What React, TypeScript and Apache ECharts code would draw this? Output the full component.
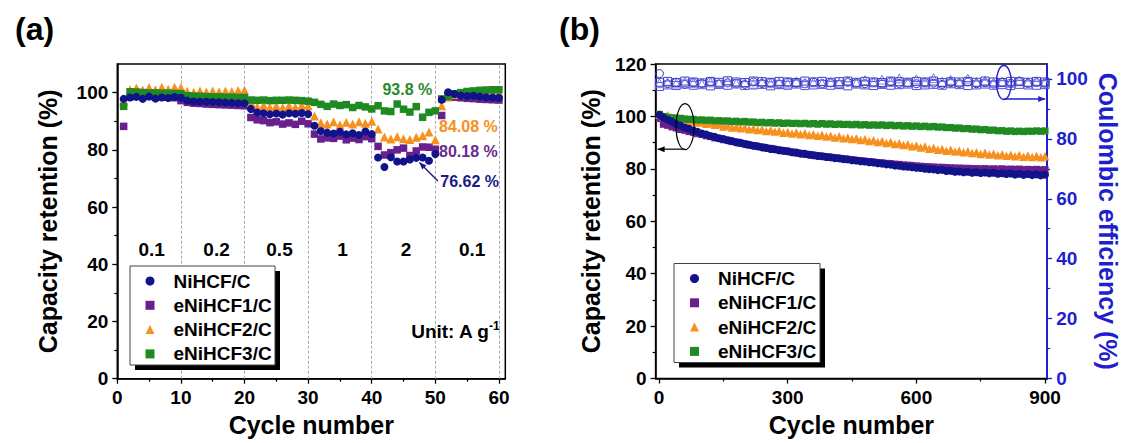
import React, { useEffect, useRef } from 'react';
import * as echarts from 'echarts';

const FONT = '"Liberation Sans", Arial, Helvetica, sans-serif';

const seriesNames = ['NiHCF/C', 'eNiHCF1/C', 'eNiHCF2/C', 'eNiHCF3/C'];
const seriesColors = ['#12128a', '#6a1f8e', '#f7901e', '#1f8a22'];
const seriesSymbols = ['circle', 'rect', 'triangle', 'rect'];
const symbolSizesA = [8, 7.5, 9, 7.5];
const symbolSizesB = [8, 7, 8.5, 7];
const drawOrder = [1, 2, 3, 0];

// ---------- panel (a): rate performance ----------
const cyclesA = Array.from({ length: 60 }, (_, i) => i + 1);
const rateNiHCF = [
  97.8, 98.3, 98.5, 97.8, 98.6, 97.9, 98.3, 98.1, 98.5, 98.2,
  97.2, 96.9, 96.8, 96.8, 96.7, 96.6, 96.5, 96.4, 96.3, 96.3,
  94.3, 93.0, 92.8, 92.4, 92.7, 92.3, 92.8, 92.6, 92.9, 92.5,
  88.4, 86.6, 86.0, 85.7, 86.3, 85.4, 85.8, 85.2, 86.4, 85.5,
  77.3, 74.0, 77.4, 75.9, 75.9, 76.6, 77.2, 77.3, 76.2, 78.5,
  97.5, 100.1, 99.5, 99.0, 98.8, 98.9, 98.6, 98.4, 98.3, 98.2,
];
const rateE1 = [
  88.2, 98.5, 98.8, 98.6, 98.7, 98.5, 98.4, 98.4, 98.2, 97.2,
  96.6, 96.3, 96.2, 96.0, 95.9, 95.8, 95.7, 95.6, 95.5, 95.4,
  91.3, 90.5, 90.2, 89.5, 89.8, 89.0, 89.4, 88.9, 90.0, 89.1,
  85.5, 83.8, 84.2, 84.0, 84.8, 83.5, 84.1, 83.6, 84.6, 83.9,
  81.2, 78.2, 79.0, 80.0, 80.6, 78.0, 79.6, 81.0, 80.9, 80.2,
  92.0, 98.8, 98.4, 98.2, 98.0, 97.9, 97.7, 97.6, 97.5, 97.4,
];
const rateE2 = [
  97.0, 101.0, 101.6, 100.9, 101.8, 101.0, 101.9, 101.2, 101.9, 101.8,
  100.5, 100.1, 100.6, 100.2, 100.6, 100.3, 100.6, 100.4, 100.7, 100.8,
  96.5, 95.0, 95.6, 94.9, 95.4, 94.8, 95.5, 95.0, 95.6, 95.4,
  91.8, 89.5, 89.0, 89.8, 88.8, 89.6, 89.0, 89.8, 89.3, 90.0,
  87.3, 84.5, 83.8, 84.6, 83.9, 83.6, 84.4, 84.9, 86.2, 83.5,
  95.4, 98.5, 99.3, 99.5, 99.6, 99.7, 99.8, 99.8, 99.9, 99.9,
];
const rateE3 = [
  95.2, 100.3, 100.2, 100.0, 99.9, 99.9, 99.8, 99.8, 99.7, 99.6,
  98.9, 98.8, 98.7, 98.6, 98.5, 98.5, 98.4, 98.4, 98.3, 98.3,
  97.4, 97.3, 97.4, 97.2, 97.3, 97.3, 97.4, 97.3, 97.2, 97.0,
  96.6, 95.9, 95.2, 96.0, 95.5, 95.8, 94.8, 95.5, 95.0, 94.3,
  95.4, 93.6, 93.4, 96.0, 94.2, 93.2, 95.1, 91.4, 93.1, 93.6,
  97.8, 98.6, 99.6, 100.0, 100.4, 100.6, 100.8, 100.9, 101.0, 101.0,
];
const rateSeriesA = [rateNiHCF, rateE1, rateE2, rateE3];

const rateLabels = ['0.1', '0.2', '0.5', '1', '2', '0.1'];
const rateLabelCycle = [5.4, 15.6, 25.5, 35.4, 45.4, 55.8];
const rateLabelLevel = 45.2;
const stageBoundaries = [10, 20, 30, 40, 50, 60];
const retentionTexts = ['93.8 %', '84.08 %', '80.18 %', '76.62 %'];
const retentionColors = ['#2a8a2a', '#f7901e', '#6a2a8e', '#1a1a86'];
const retentionAnchorCycle = [45.6, 55.2, 55.2, 55.4];
const retentionAnchorLevel = [101.1, 88.0, 79.5, 69.1];

// ---------- panel (b): long cycling ----------
const cyclesB = Array.from({ length: 91 }, (_, i) => (i === 0 ? 1 : i * 10));
const longNiHCF = [
  100.6, 99.6, 98.7, 98.0, 97.1, 96.5, 95.8, 95.3, 94.6, 94.1,
  93.5, 93.1, 92.5, 92.2, 91.7, 91.4, 90.9, 90.6, 90.1, 89.9,
  89.5, 89.2, 88.8, 88.6, 88.2, 88.0, 87.6, 87.5, 87.1, 86.9,
  86.7, 86.3, 86.2, 85.8, 85.7, 85.4, 85.2, 84.9, 84.8, 84.5,
  84.4, 84.1, 84.0, 83.7, 83.6, 83.3, 83.2, 82.9, 82.8, 82.5,
  82.4, 82.1, 82.0, 81.7, 81.6, 81.3, 81.2, 80.9, 80.8, 80.6,
  80.4, 80.3, 80.0, 79.9, 79.8, 79.5, 79.6, 79.2, 79.3, 78.9,
  79.0, 78.7, 78.9, 78.5, 78.7, 78.4, 78.6, 78.3, 78.5, 78.1,
  78.3, 78.0, 78.2, 77.8, 78.1, 77.7, 78.0, 77.6, 77.9, 77.5,
  77.8,
];
const longE1 = [
  99.2, 97.0, 96.6, 96.0, 95.6, 95.0, 94.7, 94.2, 93.9, 93.4,
  93.1, 92.6, 92.3, 91.8, 91.6, 91.1, 90.9, 90.4, 90.2, 89.8,
  89.5, 89.1, 88.9, 88.5, 88.3, 87.9, 87.8, 87.4, 87.2, 86.9,
  86.7, 86.4, 86.1, 85.9, 85.6, 85.5, 85.2, 85.0, 84.8, 84.6,
  84.4, 84.2, 84.0, 83.8, 83.6, 83.5, 83.2, 83.1, 82.9, 82.8,
  82.6, 82.4, 82.3, 82.1, 82.0, 81.8, 81.7, 81.5, 81.4, 81.3,
  81.1, 81.0, 80.9, 80.8, 80.7, 80.6, 80.6, 80.5, 80.4, 80.3,
  80.3, 80.2, 80.2, 80.1, 80.1, 80.0, 80.1, 79.9, 80.0, 79.9,
  80.0, 79.8, 79.9, 79.8, 79.9, 79.7, 79.8, 79.7, 79.8, 79.6,
  79.7,
];
const longE2 = [
  100.7, 100.0, 100.4, 99.4, 99.6, 98.8, 99.0, 98.2, 98.4, 97.7,
  97.9, 97.2, 97.4, 96.8, 96.9, 96.2, 96.5, 95.8, 96.1, 95.5,
  95.8, 95.1, 95.4, 94.8, 95.1, 94.4, 94.8, 94.2, 94.5, 93.8,
  94.1, 93.5, 93.9, 93.2, 93.6, 92.9, 93.2, 92.6, 93.0, 92.3,
  92.6, 92.0, 92.4, 91.7, 92.0, 91.4, 91.7, 91.0, 91.3, 90.6,
  90.9, 90.2, 90.6, 89.9, 90.2, 89.5, 89.8, 89.1, 89.4, 88.6,
  88.9, 88.1, 88.5, 87.7, 88.0, 87.3, 87.6, 86.9, 87.3, 86.6,
  86.9, 86.3, 86.7, 86.0, 86.3, 85.7, 86.1, 85.5, 85.8, 85.2,
  85.6, 85.0, 85.4, 84.8, 85.3, 84.6, 85.1, 84.5, 85.0, 84.4,
  84.8,
];
const longE3 = [
  100.8, 100.0, 99.7, 99.5, 99.3, 99.3, 99.0, 98.9, 98.9, 98.6,
  98.7, 98.5, 98.6, 98.3, 98.4, 98.2, 98.3, 98.0, 98.2, 97.9,
  98.1, 97.8, 97.9, 97.6, 97.8, 97.5, 97.7, 97.4, 97.6, 97.3,
  97.5, 97.3, 97.4, 97.2, 97.4, 97.1, 97.3, 97.0, 97.3, 97.0,
  97.2, 96.9, 97.1, 96.9, 97.0, 96.8, 97.0, 96.7, 96.9, 96.6,
  96.8, 96.6, 96.8, 96.5, 96.7, 96.4, 96.6, 96.3, 96.5, 96.2,
  96.4, 96.1, 96.3, 96.0, 96.2, 95.9, 96.0, 95.7, 95.8, 95.5,
  95.6, 95.3, 95.4, 95.1, 95.2, 94.9, 95.0, 94.7, 94.8, 94.5,
  94.6, 94.3, 94.5, 94.2, 94.4, 94.2, 94.4, 94.3, 94.5, 94.3,
  94.5,
];
const longSeriesB = [longNiHCF, longE1, longE2, longE3];

// Coulombic efficiency (open symbols, right axis)
const ceCycles = Array.from({ length: 46 }, (_, i) => (i === 0 ? 1 : i * 20));
const ceNiHCF = [
  101.8, 98.4, 98.9, 98.2, 98.8, 98.5, 99.1, 98.3, 98.7, 98.6,
  98.2, 99.0, 98.5, 98.8, 98.3, 98.9, 98.6, 98.4, 99.0, 98.5,
  98.7, 98.2, 98.9, 98.6, 98.4, 98.8, 98.3, 99.1, 98.5, 98.7,
  98.4, 98.9, 98.6, 98.2, 98.8, 98.5, 99.0, 98.4, 98.7, 98.3,
  98.9, 98.6, 99.2, 98.5, 98.8, 98.6,
];
const ceE1 = [
  97.5, 98.0, 97.8, 98.3, 97.9, 98.1, 97.7, 98.2, 97.9, 98.4,
  97.8, 98.0, 98.2, 97.7, 98.1, 97.9, 98.3, 97.8, 98.0, 98.2,
  97.9, 98.1, 97.7, 98.3, 98.0, 97.8, 98.2, 97.9, 98.1, 98.3,
  97.8, 98.0, 98.2, 97.9, 98.4, 98.1, 97.8, 98.0, 98.3, 97.9,
  98.1, 97.8, 98.2, 98.0, 97.9, 98.1,
];
const ceE2 = [
  98.6, 98.9, 98.5, 99.0, 98.7, 98.4, 98.9, 98.6, 99.1, 98.5,
  98.8, 98.4, 99.0, 98.6, 98.9, 98.5, 99.2, 98.7, 98.9, 98.6,
  99.0, 98.8, 99.4, 98.7, 99.6, 98.9, 99.8, 99.0, 100.2, 98.9,
  99.9, 98.8, 100.3, 99.1, 99.7, 98.9, 100.1, 99.0, 99.4, 98.8,
  99.2, 98.7, 99.5, 98.9, 99.1, 98.8,
];
const ceE3 = [
  98.9, 99.2, 98.8, 99.3, 99.0, 98.7, 99.2, 98.9, 99.4, 99.0,
  98.8, 99.3, 99.1, 98.9, 99.2, 99.0, 98.8, 99.3, 99.0, 99.2,
  98.9, 99.1, 99.3, 98.9, 99.2, 99.0, 98.8, 99.3, 99.1, 98.9,
  99.2, 99.0, 99.3, 98.8, 99.1, 99.0, 99.2, 98.9, 99.3, 99.0,
  98.8, 99.2, 99.1, 98.9, 99.2, 99.0,
];
const ceSeries = [ceNiHCF, ceE1, ceE2, ceE3];
const ceColors = ['#2a2ab0', '#5050d0', '#7c7ce4', '#3c3cc4'];

const BLUE = '#1f1fd0';

const tickLabelStyle = { fontFamily: FONT, fontSize: 19, fontWeight: 'bold', color: '#000' };
const nameStyle = { fontFamily: FONT, fontSize: 25, fontWeight: 'bold', color: '#000' };

function range(a: number, b: number, step: number) {
  const out: number[] = [];
  for (let v = a; v <= b + 1e-9; v += step) out.push(v);
  return out;
}

function buildOption(): any {
  const blackLine = { show: true, onZero: false, lineStyle: { color: '#000', width: 1.5 } };
  const noLine = { show: false, onZero: false };
  const xAxis: any[] = [
    {
      gridIndex: 0, type: 'value', min: 0, max: 61, position: 'bottom',
      axisLine: blackLine,
      axisTick: { show: true, length: 5, lineStyle: { color: '#000', width: 1.3 }, customValues: range(0, 60, 10) },
      axisLabel: { ...tickLabelStyle, margin: 9, customValues: range(0, 60, 10) },
      splitLine: { show: false },
      name: 'Cycle number', nameLocation: 'middle', nameGap: 34, nameTextStyle: nameStyle,
    },
    {
      gridIndex: 0, type: 'value', min: 0, max: 61, position: 'bottom',
      axisLine: noLine,
      axisTick: { show: true, length: 3, lineStyle: { color: '#000', width: 1.2 }, customValues: range(5, 55, 10) },
      axisLabel: { show: false }, splitLine: { show: false },
    },
    {
      gridIndex: 1, type: 'value', min: -8, max: 905, position: 'bottom',
      axisLine: blackLine,
      axisTick: { show: true, length: 5, lineStyle: { color: '#000', width: 1.3 }, customValues: range(0, 900, 300) },
      axisLabel: { ...tickLabelStyle, margin: 9, customValues: range(0, 900, 300) },
      splitLine: { show: false },
      name: 'Cycle number', nameLocation: 'middle', nameGap: 34, nameTextStyle: nameStyle,
    },
    {
      gridIndex: 1, type: 'value', min: -8, max: 905, position: 'bottom',
      axisLine: noLine,
      axisTick: { show: true, length: 3, lineStyle: { color: '#000', width: 1.2 }, customValues: range(150, 750, 300) },
      axisLabel: { show: false }, splitLine: { show: false },
    },
  ];
  const yAxis: any[] = [
    {
      gridIndex: 0, type: 'value', min: 0, max: 110, position: 'left',
      axisLine: blackLine,
      axisTick: { show: true, length: 5, lineStyle: { color: '#000', width: 1.3 }, customValues: range(0, 100, 20) },
      axisLabel: { ...tickLabelStyle, margin: 9, customValues: range(0, 100, 20) },
      splitLine: { show: false },
      name: 'Capacity retention (%)', nameLocation: 'middle', nameGap: 57, nameTextStyle: nameStyle,
    },
    {
      gridIndex: 0, type: 'value', min: 0, max: 110, position: 'left',
      axisLine: noLine,
      axisTick: { show: true, length: 3, lineStyle: { color: '#000', width: 1.2 }, customValues: range(10, 90, 20) },
      axisLabel: { show: false }, splitLine: { show: false },
    },
    {
      gridIndex: 1, type: 'value', min: 0, max: 120, interval: 20, position: 'left',
      axisLine: blackLine,
      axisTick: { show: true, length: 5, lineStyle: { color: '#000', width: 1.3 } },
      minorTick: { show: true, splitNumber: 2, length: 3, lineStyle: { color: '#000', width: 1.2 } },
      axisLabel: { ...tickLabelStyle, margin: 9 },
      splitLine: { show: false },
      name: 'Capacity retention (%)', nameLocation: 'middle', nameGap: 52, nameTextStyle: nameStyle,
    },
    {
      gridIndex: 1, type: 'value', min: 0, max: 105, position: 'right',
      axisLine: { show: true, onZero: false, lineStyle: { color: BLUE, width: 2 } },
      axisTick: { show: true, length: 5, lineStyle: { color: BLUE, width: 1.3 }, customValues: range(0, 100, 20) },
      axisLabel: { ...tickLabelStyle, color: BLUE, margin: 9, customValues: range(0, 100, 20) },
      splitLine: { show: false },
      name: 'Coulombic efficiency (%)', nameLocation: 'middle', nameGap: 48, nameRotate: -90,
      nameTextStyle: { ...nameStyle, color: BLUE },
    },
    {
      gridIndex: 1, type: 'value', min: 0, max: 105, position: 'right',
      axisLine: noLine,
      axisTick: { show: true, length: 3, lineStyle: { color: BLUE, width: 1.2 }, customValues: range(10, 90, 20) },
      axisLabel: { show: false }, splitLine: { show: false },
    },
  ];

  const series: any[] = [];
  drawOrder.forEach((k, idx) => {
    const s: any = {
      name: seriesNames[k], type: 'scatter', xAxisIndex: 0, yAxisIndex: 0,
      symbol: seriesSymbols[k], symbolSize: symbolSizesA[k],
      itemStyle: { color: seriesColors[k], opacity: 1 },
      data: cyclesA.map((c, i) => [c, rateSeriesA[k][i]]),
      silent: true, z: 3,
    };
    if (idx === 0) {
      s.markLine = {
        silent: true, symbol: ['none', 'none'], label: { show: false },
        lineStyle: { color: '#a8a8a8', type: [3, 2], width: 1 },
        data: stageBoundaries.map((x) => ({ xAxis: x })),
        z: 1,
      };
    }
    series.push(s);
  });
  drawOrder.forEach((k) => {
    series.push({
      name: seriesNames[k], type: 'scatter', xAxisIndex: 2, yAxisIndex: 2,
      symbol: seriesSymbols[k], symbolSize: symbolSizesB[k],
      itemStyle: { color: seriesColors[k], opacity: 1 },
      data: cyclesB.map((c, i) => [c, longSeriesB[k][i]]),
      silent: true, z: 3,
    });
  });
  ceSeries.forEach((vals, k) => {
    series.push({
      name: 'CE ' + seriesNames[k], type: 'scatter', xAxisIndex: 2, yAxisIndex: 3,
      symbol: seriesSymbols[k], symbolSize: k === 2 ? 9 : 8,
      itemStyle: { color: 'rgba(255,255,255,0)', borderColor: ceColors[k], borderWidth: 1, opacity: 1 },
      data: ceCycles.map((c, i) => [c, vals[i]]),
      silent: true, z: 3,
    });
  });

  const legendCommon = {
    data: seriesNames, orient: 'vertical', itemWidth: 9, itemHeight: 9, padding: 0,
    selectedMode: false, z: 10,
    itemStyle: { opacity: 1 },
    textStyle: { fontFamily: FONT, fontSize: 19, fontWeight: 'bold', color: '#000', lineHeight: 20, padding: [0, 0, 0, 14] },
  };

  return {
    animation: false,
    backgroundColor: '#fff',
    title: [
      { text: '(a)', left: 10, top: 8, textStyle: { fontFamily: FONT, fontSize: 32, fontWeight: 'bold', color: '#000' } },
      { text: '(b)', left: 554, top: 8, textStyle: { fontFamily: FONT, fontSize: 32, fontWeight: 'bold', color: '#000' } },
    ],
    grid: [
      { left: 117.3, width: 388, top: 64, height: 314.7, show: true, borderColor: '#000', borderWidth: 1.5, backgroundColor: 'transparent' },
      { left: 655.6, width: 391.6, top: 64, height: 314.5, show: true, borderColor: '#000', borderWidth: 1.5, backgroundColor: 'transparent' },
    ],
    legend: [
      { ...legendCommon, left: 145.5, top: 271, itemGap: 4.3 },
      { ...legendCommon, left: 690, top: 268.5, itemGap: 4.3 },
    ],
    xAxis, yAxis, series,
  };
}

function arrowHead(tip: number[], tail: number[], color: string, len = 7, half = 3) {
  const dx = tip[0] - tail[0];
  const dy = tip[1] - tail[1];
  const d = Math.hypot(dx, dy) || 1;
  const ux = dx / d, uy = dy / d;
  const nx = -uy, ny = ux;
  const bx = tip[0] - ux * len, by = tip[1] - uy * len;
  return {
    type: 'polygon', z: 20, silent: true,
    shape: { points: [[tip[0], tip[1]], [bx + nx * half, by + ny * half], [bx - nx * half, by - ny * half]] },
    style: { fill: color },
  };
}

export default function App() {
  const ref = useRef<HTMLDivElement>(null);
  useEffect(() => {
    const chart = echarts.init(ref.current!, undefined, { renderer: 'svg' });
    chart.setOption(buildOption());

    const toA = (x: number, y: number) => chart.convertToPixel({ xAxisIndex: 0, yAxisIndex: 0 } as any, [x, y]) as number[];
    const toB = (x: number, y: number) => chart.convertToPixel({ xAxisIndex: 2, yAxisIndex: 2 } as any, [x, y]) as number[];
    const toBR = (x: number, y: number) => chart.convertToPixel({ xAxisIndex: 2, yAxisIndex: 3 } as any, [x, y]) as number[];

    const els: any[] = [];
    // legend boxes with shadow
    const boxes = [
      { x: 130, y: 266, w: 145, h: 99 },
      { x: 674, y: 263.5, w: 146, h: 99 },
    ];
    boxes.forEach((b) => {
      els.push({ type: 'rect', z: 1, silent: true, shape: { x: b.x + 5, y: b.y + 5, width: b.w, height: b.h }, style: { fill: '#000' } });
      els.push({ type: 'rect', z: 2, silent: true, shape: { x: b.x, y: b.y, width: b.w, height: b.h }, style: { fill: '#fff', stroke: '#444', lineWidth: 1 } });
    });
    // rate labels
    rateLabels.forEach((t, i) => {
      const p = toA(rateLabelCycle[i], rateLabelLevel);
      els.push({ type: 'text', z: 20, x: p[0], y: p[1], silent: true,
        style: { text: t, fontFamily: FONT, fontSize: 19, fontWeight: 'bold', fill: '#000', align: 'center', verticalAlign: 'middle' } });
    });
    // retention labels
    retentionTexts.forEach((t, i) => {
      const p = toA(retentionAnchorCycle[i], retentionAnchorLevel[i]);
      els.push({ type: 'text', z: 20, x: p[0], y: p[1], silent: true,
        style: { text: t, fontFamily: FONT, fontSize: 16, fontWeight: 'bold', fill: retentionColors[i], align: 'center', verticalAlign: 'middle' } });
    });
    // unit label
    const pu = toA(60.1, 16.5);
    els.push({ type: 'text', z: 20, x: pu[0], y: pu[1], silent: true,
      style: {
        text: '{a|Unit: A g}{b|-1}', align: 'right', verticalAlign: 'middle',
        rich: {
          a: { fontFamily: FONT, fontSize: 19, fontWeight: 'bold', fill: '#000', color: '#000' },
          b: { fontFamily: FONT, fontSize: 12, fontWeight: 'bold', fill: '#000', color: '#000', padding: [0, 0, 11, 0] },
        },
      } });
    // arrow (a)
    const a0 = toA(47.5, 75.6), a1 = toA(50.4, 69.1);
    els.push({ type: 'line', z: 20, silent: true, shape: { x1: a0[0], y1: a0[1], x2: a1[0], y2: a1[1] }, style: { stroke: '#1a1a86', lineWidth: 1.4 } });
    els.push(arrowHead(a0, a1, '#1a1a86'));
    // ellipse + arrow to left axis (b)
    const e1 = toB(60.6, 96.1);
    els.push({ type: 'ellipse', z: 20, silent: true, shape: { cx: e1[0], cy: e1[1], rx: 9, ry: 23 }, style: { fill: 'none', stroke: '#000', lineWidth: 1.2 } });
    const l0 = toB(60.6, 87.5), l1 = toB(-8, 87.5);
    els.push({ type: 'line', z: 20, silent: true, shape: { x1: l0[0], y1: l0[1], x2: l1[0] + 2, y2: l1[1] }, style: { stroke: '#000', lineWidth: 1.2 } });
    els.push(arrowHead([l1[0] + 2, l1[1]], l0, '#000'));
    // ellipse + arrow to right axis (b)
    const e2 = toBR(804, 98.8);
    els.push({ type: 'ellipse', z: 20, silent: true, shape: { cx: e2[0], cy: e2[1], rx: 7.5, ry: 17 }, style: { fill: 'none', stroke: BLUE, lineWidth: 1.4 } });
    const r0 = toBR(804, 93.3), r1 = toBR(905, 93.3);
    els.push({ type: 'line', z: 20, silent: true, shape: { x1: r0[0], y1: r0[1], x2: r1[0] - 2, y2: r1[1] }, style: { stroke: BLUE, lineWidth: 1.4 } });
    els.push(arrowHead([r1[0] - 2, r1[1]], r0, BLUE));

    chart.setOption({ graphic: { elements: els } });
    return () => chart.dispose();
  }, []);
  return <div ref={ref} style={{ position: 'fixed', left: 0, top: 0, width: 1123, height: 443, background: '#fff' }} />;
}
